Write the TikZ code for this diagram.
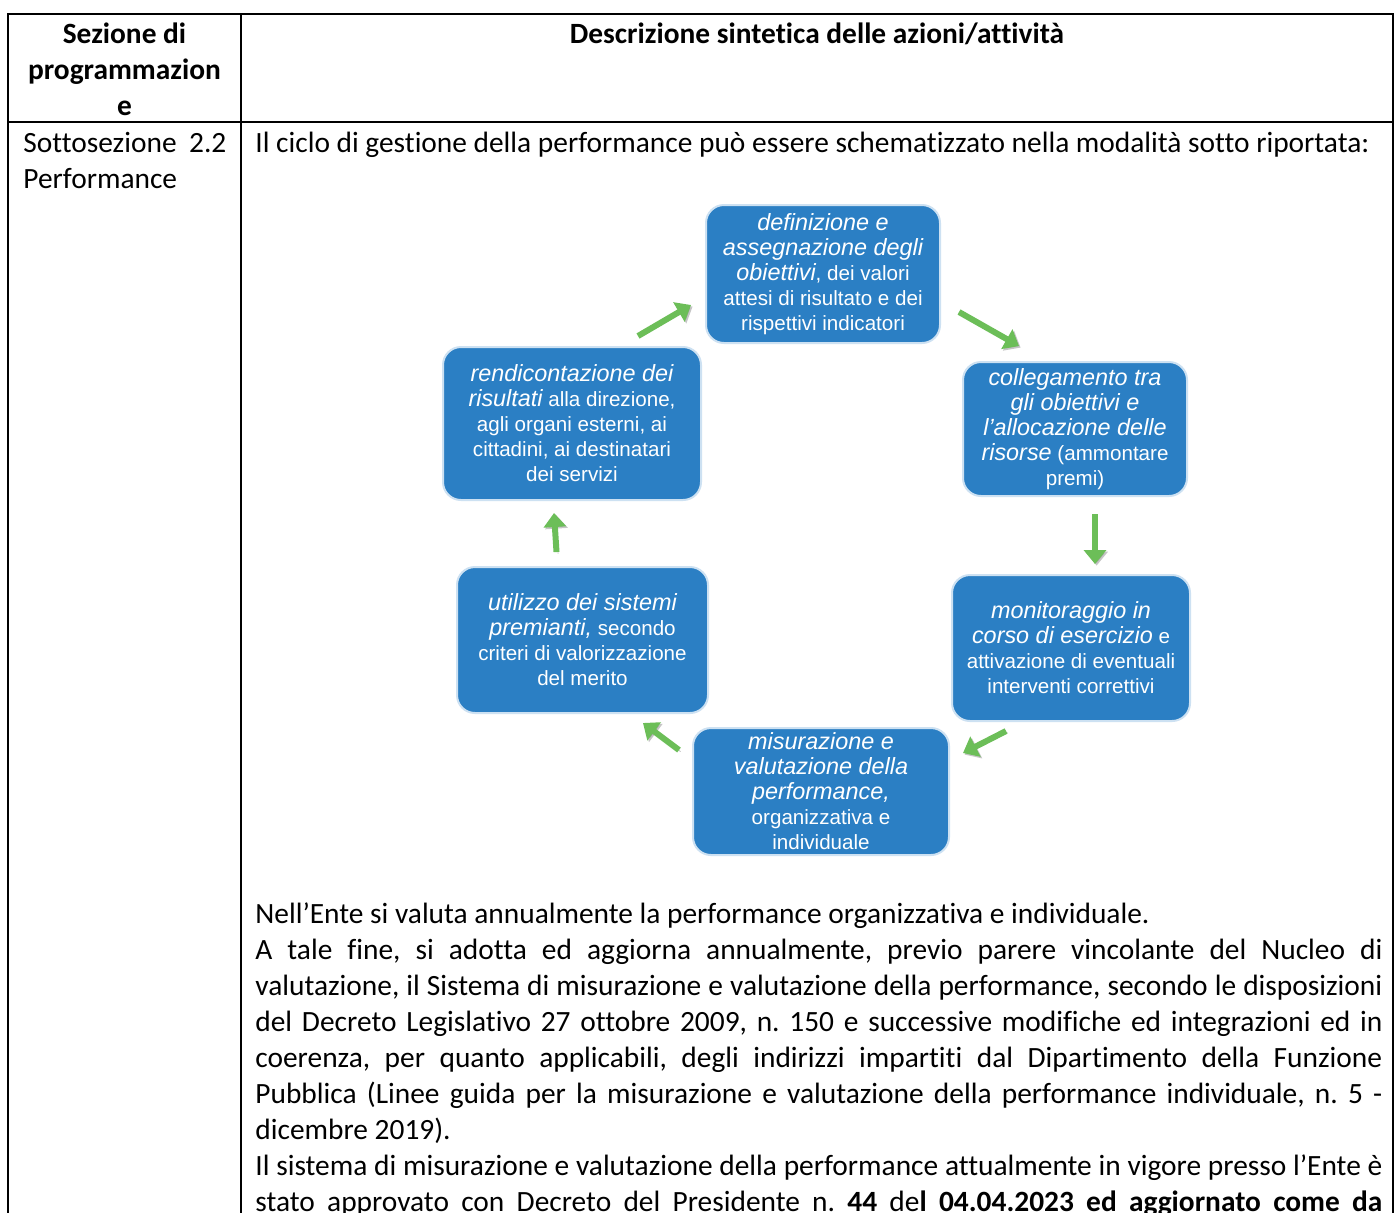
\documentclass[tikz,border=0pt]{standalone}
\usepackage{fontspec}
\setmainfont[Ligatures={TeX,NoCommon}]{Carlito}
\newfontfamily\boxfont{Liberation Sans}
\usetikzlibrary{calc,arrows.meta}

\definecolor{boxblue}{RGB}{43,127,196}
\definecolor{boxrim}{RGB}{205,225,242}
\definecolor{cycgreen}{RGB}{108,190,88}
\newcommand{\kw}[1]{{\fontsize{11.7}{12.5}\selectfont\itshape #1}}

\tikzset{
  stage/.style={rounded corners=9pt, fill=boxblue, draw=boxrim, line width=1pt, text=white,
    align=center, inner sep=2pt, font={\boxfont\fontsize{10.3}{12.5}\selectfont}},
  cyc/.style={cycgreen, line width=3pt, -{Triangle[length=7pt,width=11pt]},
    preaction={draw=black!50, opacity=0.45, transform canvas={shift={(0.8pt,-0.8pt)}}}},
  rule/.style={black, line width=1pt},
  cell/.style={anchor=base west, inner sep=0pt, font={\fontsize{14.7}{18}\selectfont}},
}

\begin{document}
\frenchspacing
\begin{tikzpicture}[x=0.5pt, y=-0.5pt]
  \useasboundingbox (0,0) rectangle (1400,1212);
  \clip (0,0) rectangle (1400,1212);
  \fill[white] (0,0) rectangle (1400,1212);

  % table
  \draw[rule] (8,14) rectangle (1393,1240);
  \draw[rule] (241,14) -- (241,1240);
  \draw[rule] (8,122) -- (1393,122);

  \node[cell, anchor=base] (sez) at (124.5,43)
    {\parbox[t]{110pt}{\centering\bfseries Sezione di\\programmazion\\e}};
  \node[cell, anchor=base] (descr) at (817,43) {\bfseries Descrizione sintetica delle azioni/attività};
  \node[cell] (sotto) at (23,152)
    {\parbox[t]{101.5pt}{Sottosezione 2.2\linebreak Performance}};
  \node[cell] (intro) at (255,152)
    {Il ciclo di gestione della performance può essere schematizzato nella modalità sotto riportata:};

  % cycle
  \node[stage, minimum width=117pt, minimum height=69pt] (defin) at (823,274)
    {\kw{definizione e}\\\kw{assegnazione degli}\\\kw{obiettivi}, dei valori\\attesi di risultato e dei\\rispettivi indicatori};
  \node[stage, minimum width=112pt, minimum height=67pt] (colleg) at (1075,429)
    {\kw{collegamento tra}\\\kw{gli obiettivi e}\\\kw{l’allocazione delle}\\\kw{risorse} (ammontare\\premi)};
  \node[stage, minimum width=119pt, minimum height=73pt] (monit) at (1071,648)
    {\kw{monitoraggio in}\\\kw{corso di esercizio} e\\attivazione di eventuali\\interventi correttivi};
  \node[stage, minimum width=128pt, minimum height=63.5pt] (misur) at (821,791.5)
    {\kw{misurazione e}\\\kw{valutazione della}\\\kw{performance,}\\organizzativa e\\individuale};
  \node[stage, minimum width=125.5pt, minimum height=73pt] (utiliz) at (582.5,640)
    {\kw{utilizzo dei sistemi}\\\kw{premianti,} secondo\\criteri di valorizzazione\\del merito};
  \node[stage, minimum width=129pt, minimum height=76.5pt] (rendic) at (572,423.5)
    {\kw{rendicontazione dei}\\\kw{risultati} alla direzione,\\agli organi esterni, ai\\cittadini, ai destinatari\\dei servizi};

  \draw[cyc] ($(rendic.north east)+(-64,-10)$) -- ($(defin.west)+(-14,31)$);
  \draw[cyc] ($(defin.east)+(18,38)$) -- ($(colleg.north west)+(57,-15)$);
  \draw[cyc] ($(colleg.south)+(20,17)$) -- ($(monit.north)+(24,-10)$);
  \draw[cyc] ($(monit.south west)+(55,9)$) -- ($(misur.east)+(13,-38.5)$);
  \draw[cyc] ($(misur.west)+(-13,-41.5)$) -- ($(utiliz.south east)+(-66,9)$);
  \draw[cyc] ($(utiliz.north)+(-26,-14)$) -- ($(rendic.south)+(-18,12)$);

  % text below
  \node[cell] (testo) at (255,923)
    {\parbox[t]{563.5pt}{\tolerance=9999\hbadness=10000
    Nell'Ente si valuta annualmente la performance organizzativa e individuale.\par
    A tale fine, si adotta ed aggiorna annualmente, previo parere vincolante del Nucleo di\linebreak
    valutazione, il Sistema di misurazione e valutazione della performance, secondo le disposizioni\linebreak
    del Decreto Legislativo 27 ottobre 2009, n. 150 e successive modifiche ed integrazioni ed in\linebreak
    coerenza, per quanto applicabili, degli indirizzi impartiti dal Dipartimento della Funzione\linebreak
    Pubblica (Linee guida per la misurazione e valutazione della performance individuale, n. 5 -\linebreak
    dicembre 2019).\par
    Il sistema di misurazione e valutazione della performance attualmente in vigore presso l'Ente è\linebreak
    stato approvato con Decreto del Presidente n. \textbf{44} de\textbf{l 04.04.2023 ed aggiornato come da}\linebreak}};
\end{tikzpicture}
\end{document}
